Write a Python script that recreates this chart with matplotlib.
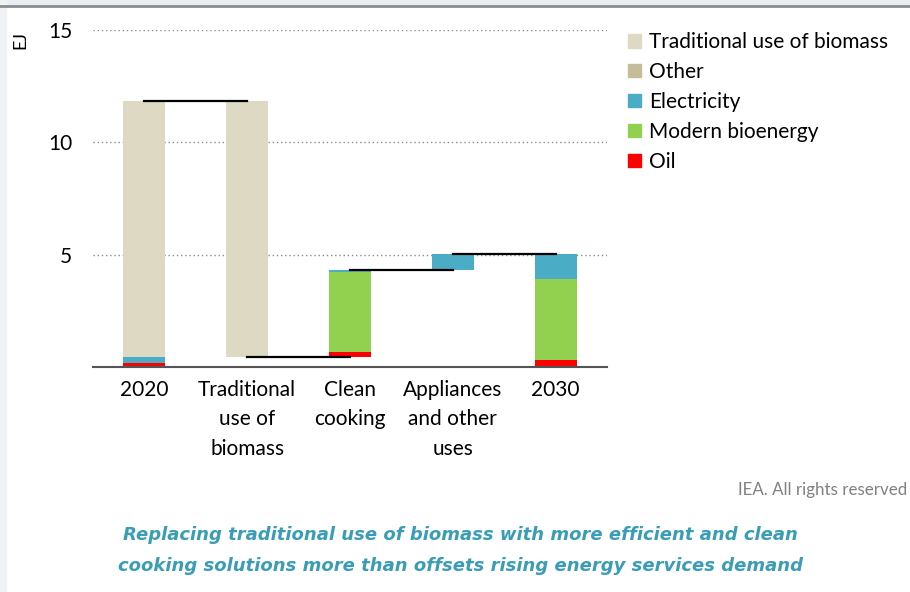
import matplotlib.pyplot as plt
import numpy as np
from matplotlib.patches import Rectangle, Patch

plt.rcParams['font.family'] = ['Lato', 'DejaVu Sans']

categories = ['2020', 'Traditional\nuse of\nbiomass', 'Clean\ncooking',
              'Appliances\nand other\nuses', '2030']
# stacked pieces per category (EJ), bottom to top
oil = [0.17, 0.0, 0.22, 0.03, 0.31]
modern_bio = [0.0, 0.0, 3.55, 0.0, 3.60]
electricity = [0.27, 0.0, 0.09, 0.72, 1.12]
other = [0.0, 0.0, 0.0, 0.0, 0.0]
traditional = [11.41, 11.41, 0.0, 0.0, 0.0]
# +1 adds, -1 removes, 0 is a total bar
kind = [0, -1, 1, 1, 0]

series = [('Oil', oil, '#ff0000'),
          ('Modern bioenergy', modern_bio, '#92d050'),
          ('Electricity', electricity, '#4bacc6'),
          ('Other', other, '#c4bd97'),
          ('Traditional use of biomass', traditional, '#ddd9c3')]

heights = np.array([s[1] for s in series])
size = heights.sum(axis=0)

# waterfall bases and running levels
bases = []
level = 0.0
levels = []
for i, k in enumerate(kind):
    if k == 0:
        bases.append(0.0)
        level = size[i]
    elif k > 0:
        bases.append(level)
        level = level + size[i]
    else:
        level = level - size[i]
        bases.append(level)
    levels.append(level)

fig = plt.figure(figsize=(9.1, 5.92), dpi=100)
# frame decorations
fig.patches.append(Rectangle((0, 1 - 5/592), 1, 5/592, transform=fig.transFigure,
                             color='#e9eef2', zorder=0))
fig.patches.append(Rectangle((0, 0), 6/910, 1, transform=fig.transFigure,
                             color='#eef2f5', zorder=0))
fig.lines.append(plt.Line2D([0, 1], [1 - 5.5/592, 1 - 5.5/592], transform=fig.transFigure,
                            color='#8c8c8c', lw=2))

ax = fig.add_axes([93/910, 1 - 367/592, 514/910, 337/592])
x = np.arange(len(categories))
w = 0.41
bottom = np.array(bases, dtype=float)
for name, vals, col in series:
    ax.bar(x, vals, w, bottom=bottom, color=col, zorder=2)
    bottom = bottom + np.array(vals)

# connectors between bars
for i in range(len(categories) - 1):
    ax.plot([x[i], x[i + 1]], [levels[i], levels[i]], color='black', lw=1.6, zorder=3)

ax.set_xlim(-0.5, 4.5)
ax.set_ylim(0, 15)
ax.set_yticks([5, 10, 15])
ax.yaxis.grid(True, linestyle=(0, (1, 2)), color='#8c8c8c', lw=1)
ax.set_axisbelow(True)
for s in ['top', 'right', 'left']:
    ax.spines[s].set_visible(False)
ax.spines['bottom'].set_color('#555555')
ax.spines['bottom'].set_linewidth(1.5)
ax.tick_params(length=0, labelsize=15, pad=9)
ax.tick_params(axis='y', pad=15)
ax.set_xticks(x)
ax.set_xticklabels(categories, linespacing=1.6)
fig.text(20/910, 1 - 40/592, 'EJ', rotation=90, ha='center', va='center', fontsize=13)

handles = [Patch(color=col) for _, _, col in series][::-1]
labels = [n for n, _, _ in series][::-1]
fig.legend(handles, labels, loc='upper left', bbox_to_anchor=(0.67, 0.977),
           frameon=False, fontsize=15, handlelength=0.6, handleheight=0.6,
           handletextpad=0.4, labelspacing=0.47)

fig.text(907/910, 1 - 490/592, 'IEA. All rights reserved', ha='right', va='center',
         fontsize=12.2, color='#808080')
fig.text(460/910, 1 - 535/592,
         'Replacing traditional use of biomass with more efficient and clean',
         ha='center', va='center', fontsize=13, color='#3a9db5',
         style='italic', weight='bold', family='DejaVu Sans')
fig.text(460/910, 1 - 566/592,
         'cooking solutions more than offsets rising energy services demand',
         ha='center', va='center', fontsize=13, color='#3a9db5',
         style='italic', weight='bold', family='DejaVu Sans')

fig.savefig('out.png', dpi=100)
